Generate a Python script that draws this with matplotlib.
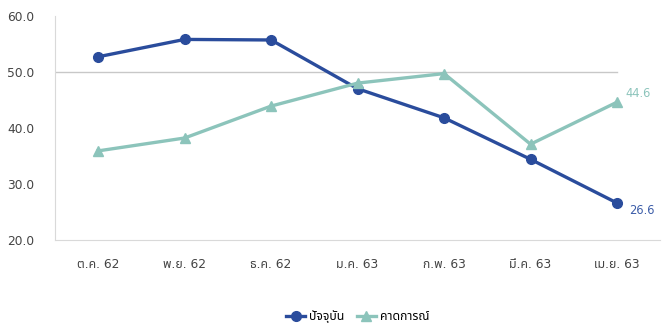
import matplotlib
matplotlib.use("Agg")
import matplotlib.pyplot as plt
from matplotlib import font_manager

months = ["ต.ค. 62", "พ.ย. 62", "ธ.ค. 62", "ม.ค. 63", "ก.พ. 63", "มี.ค. 63", "เม.ย. 63"]
current = [52.7, 55.8, 55.7, 47.0, 41.8, 34.4, 26.6]
expected = [35.9, 38.2, 43.9, 48.0, 49.7, 37.1, 44.6]
series_names = ["ปัจจุบัน", "คาดการณ์"]

# pick whatever Thai-capable font is around, else fall back
names = {f.name for f in font_manager.fontManager.ttflist}
thai = [n for n in ["Noto Sans Thai", "Noto Sans Thai UI", "Loma", "Garuda", "Tlwg Typo",
                    "Sarabun", "TH Sarabun New", "Norasi", "Kinnari", "Umpush", "Waree"] if n in names]
plt.rcParams["font.family"] = ["DejaVu Sans"] + thai

blue = "#2a4c9c"
teal = "#8cc4bb"
grey = "#444444"

fig = plt.figure(figsize=(6.69, 3.31), dpi=100)
ax = fig.add_axes([0.082, 0.275, 0.905, 0.677])

x = list(range(len(months)))
ax.plot(x, current, color=blue, lw=2.4, marker="o", ms=7, label=series_names[0], zorder=3)
ax.plot(x, expected, color=teal, lw=2.4, marker="^", ms=7.5, label=series_names[1], zorder=3)

ax.set_ylim(20, 60)
ax.set_xlim(-0.5, len(months) - 0.5)
ax.set_yticks([20, 30, 40, 50, 60])
ax.set_yticklabels([f"{v:.1f}" for v in [20, 30, 40, 50, 60]])
ax.set_xticks(x)
ax.set_xticklabels(months)
# gridline at 50 stops at the last category
ax.axhline(50, xmax=(len(months) - 0.5) / len(months), color="#c8c8c8", lw=1, zorder=1)
ax.tick_params(length=0, labelsize=8.8, colors=grey)
ax.tick_params(axis="x", pad=13)
ax.tick_params(axis="y", pad=15)

for s in ["top", "right"]:
    ax.spines[s].set_visible(False)
ax.spines["left"].set_color("#d9d9d9")
ax.spines["bottom"].set_color("#d9d9d9")

ax.annotate(f"{current[-1]:.1f}", (x[-1], current[-1]), xytext=(9, -8),
            textcoords="offset points", color="#3b5ca8", fontsize=8.3)
ax.annotate(f"{expected[-1]:.1f}", (x[-1], expected[-1]), xytext=(6, 4),
            textcoords="offset points", color=teal, fontsize=8.3)

leg = ax.legend(loc="upper center", bbox_to_anchor=(0.5, -0.265), ncol=2, frameon=False,
                fontsize=8.8, handlelength=1.6, handletextpad=0.3, columnspacing=1.0)

fig.savefig("out.png", dpi=100)
